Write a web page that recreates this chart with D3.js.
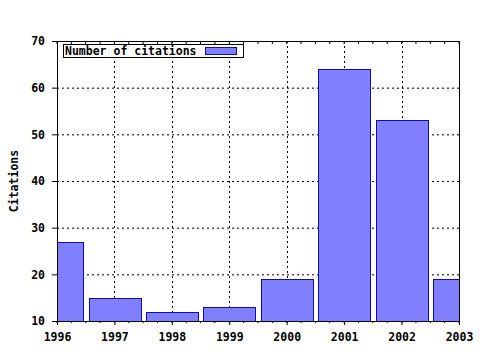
<!DOCTYPE html>
<html>
<head>
<meta charset="utf-8">
<script src="https://cdn.jsdelivr.net/npm/d3@7"></script>
<style>
  body { margin: 0; background: #fff; }
  text { font-family: "DejaVu Sans Mono", monospace; font-weight: bold; font-size: 11.5px; }
</style>
</head>
<body>
<svg id="chart"></svg>
<script>
var years = [1996, 1997, 1998, 1999, 2000, 2001, 2002, 2003];
var citations = [27, 15, 12, 13, 19, 64, 53, 19];
var yTicks = [10, 20, 30, 40, 50, 60, 70];
var seriesName = "Number of citations";

var margin = {top: 41, right: 21, bottom: 29, left: 57};
var width = 480 - margin.left - margin.right;
var height = 350 - margin.top - margin.bottom;

var x = d3.scaleLinear().domain([1996, 2003]).range([0, width]);
var y = d3.scaleLinear().domain([10, 70]).range([height, 0]);

var svg = d3.select("#chart")
  .attr("width", 480)
  .attr("height", 350);

svg.append("defs").append("clipPath")
  .attr("id", "plot-clip")
  .append("rect")
  .attr("width", width)
  .attr("height", height);

var chart = svg.append("g")
  .attr("transform", "translate(" + margin.left + "," + margin.top + ")");

// dotted grid
chart.selectAll(".hgrid")
  .data(yTicks.slice(1, -1))
  .enter().append("line")
  .attr("x1", 0).attr("x2", width)
  .attr("y1", function(d) { return y(d) + 0.5; })
  .attr("y2", function(d) { return y(d) + 0.5; })
  .attr("stroke", "#000")
  .attr("stroke-dasharray", "2,3");

chart.selectAll(".vgrid")
  .data(years.slice(1, -1))
  .enter().append("line")
  .attr("y1", 0).attr("y2", height)
  .attr("x1", function(d) { return Math.round(x(d)) + 0.5; })
  .attr("x2", function(d) { return Math.round(x(d)) + 0.5; })
  .attr("stroke", "#000")
  .attr("stroke-dasharray", "2,3");

// bars, centred on each year, 0.9 wide
var step = x(1997) - x(1996);
chart.append("g")
  .attr("clip-path", "url(#plot-clip)")
  .selectAll("rect")
  .data(years)
  .enter().append("rect")
  .attr("x", function(d) { return Math.round(x(d) - step * 0.45) + 0.5; })
  .attr("width", Math.round(step * 0.9))
  .attr("y", function(d, i) { return Math.round(y(citations[i])) + 0.5; })
  .attr("height", function(d, i) { return height - Math.round(y(citations[i])); })
  .attr("fill", "#8080ff")
  .attr("stroke", "#1010a0")
  .attr("stroke-width", 1);

// minor ticks every quarter year
var quarters = d3.range(0, 29).map(function(i) { return 1996 + i / 4; });

var xAxis = d3.axisBottom(x)
  .tickValues(years)
  .tickFormat(d3.format("d"))
  .tickSize(4)
  .tickPadding(8);

var yAxis = d3.axisLeft(y)
  .tickValues(yTicks)
  .tickSize(5)
  .tickPadding(7);

var gx = chart.append("g")
  .attr("transform", "translate(0," + height + ")")
  .call(xAxis);

gx.selectAll(".minor")
  .data(quarters)
  .enter().append("line")
  .attr("x1", function(d) { return x(d); })
  .attr("x2", function(d) { return x(d); })
  .attr("y1", 0).attr("y2", 2)
  .attr("stroke", "#000");

chart.append("g")
  .selectAll("line")
  .data(quarters)
  .enter().append("line")
  .attr("x1", function(d) { return x(d); })
  .attr("x2", function(d) { return x(d); })
  .attr("y1", 0).attr("y2", 3)
  .attr("stroke", "#000");

var gy = chart.append("g").call(yAxis);

chart.selectAll(".domain").remove();
chart.selectAll(".tick text")
  .attr("fill", "#000")
  .style("font-family", "'DejaVu Sans Mono', monospace")
  .style("font-weight", "bold")
  .style("font-size", "11.5px");

// frame
chart.append("rect")
  .attr("x", 0.5).attr("y", 0.5)
  .attr("width", width)
  .attr("height", height)
  .attr("fill", "none")
  .attr("stroke", "#000");

// y title
svg.append("text")
  .attr("transform", "translate(18," + (margin.top + height / 2) + ") rotate(-90)")
  .attr("text-anchor", "middle")
  .text("Citations");

// legend
var legend = chart.append("g")
  .attr("transform", "translate(6,3)");

legend.append("rect")
  .attr("x", 0.5).attr("y", 0.5)
  .attr("width", 180)
  .attr("height", 13)
  .attr("fill", "#fff")
  .attr("stroke", "#000");

legend.append("text")
  .attr("x", 2)
  .attr("y", 11)
  .text(seriesName);

legend.append("rect")
  .attr("x", 142.5).attr("y", 3.5)
  .attr("width", 31)
  .attr("height", 7)
  .attr("fill", "#8080ff")
  .attr("stroke", "#1010a0");
</script>
</body>
</html>
